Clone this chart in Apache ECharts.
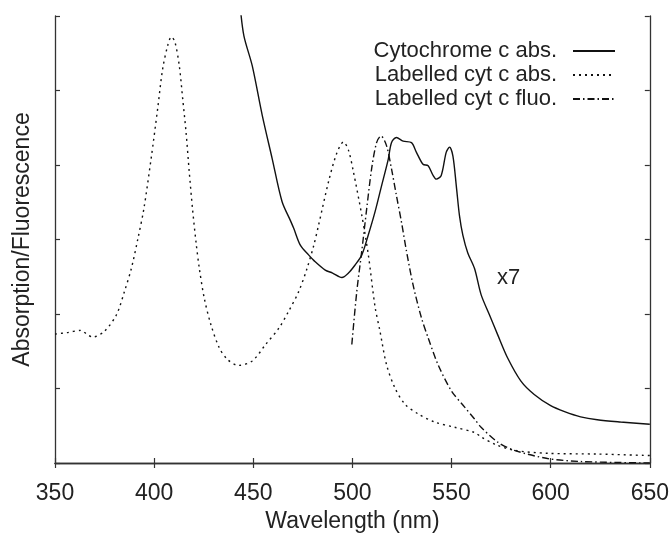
<!DOCTYPE html>
<html lang="en">
<head>
    <meta charset="UTF-8">
    <title>Absorption / Fluorescence</title>
    <script src="https://cdn.jsdelivr.net/npm/echarts@6/dist/echarts.min.js"></script>
    <style>
        body{margin:0;background:#fff;}
        #main{width:672px;height:538px;}
    </style>
</head>
<body>
<div id="main"></div>
<script>
    // wavelength (nm), relative intensity (0-6 scale of the frame)
    var cytAbs = [
        [443.5,6.1],[445.3,5.73],[449.5,5.33],[454.5,4.67],[459.5,4.09],[464.5,3.51],[468.8,3.25],
        [470.4,3.15],[473.8,2.92],[478,2.79],[480.5,2.72],[486.3,2.59],[490,2.55],[494.7,2.49],
        [498,2.55],[501.4,2.66],[504.7,2.79],[508,3.06],[511.4,3.37],[514.7,3.72],[518.1,4.08],
        [519.7,4.30],[522.2,4.37],[525.6,4.32],[529.8,4.30],[532.3,4.17],[535.6,4.01],[538.2,3.99],
        [540.7,3.86],[542.3,3.81],[544.8,3.86],[547.3,4.17],[549,4.24],[550.7,4.12],[552.4,3.72],
        [554,3.32],[555.7,3.06],[558.2,2.82],[561.6,2.61],[564.9,2.26],[569.1,1.99],[573.3,1.72],
        [578.3,1.41],[585,1.10],[591.7,0.92],[600,0.77],[607,0.69],[615.1,0.62],[623.5,0.58],
        [635.2,0.55],[650,0.52]
    ];
    var labAbs = [
        [350,1.73],[356,1.75],[363,1.78],[366,1.73],[369,1.69],[375,1.77],[381,1.99],[385,2.30],
        [388.5,2.61],[391.8,3.01],[394.8,3.41],[398.5,4.09],[401.8,4.76],[404.3,5.29],[407,5.62],
        [408.7,5.72],[410.5,5.65],[412.7,5.33],[414.4,4.89],[416.1,4.44],[417.7,3.91],[419.4,3.40],
        [421.1,2.97],[422.8,2.61],[425.3,2.21],[428.6,1.86],[432.8,1.55],[437,1.39],[442.5,1.31],
        [449.5,1.37],[456.2,1.59],[462.9,1.81],[467.9,2.04],[472.9,2.30],[477.1,2.61],[480.5,2.92],
        [483,3.20],[488,3.78],[492,4.15],[495.5,4.31],[498,4.20],[500.5,3.91],[504.7,3.33],
        [508,2.80],[511.4,2.10],[513.9,1.77],[517.2,1.32],[521.4,1.01],[526.5,0.79],[533.1,0.66],
        [541.5,0.55],[551.5,0.48],[561.6,0.41],[564.9,0.35],[572,0.25],[581.7,0.17],[598.4,0.13],
        [623.5,0.12],[650,0.10]
    ];
    var labFluo = [
        [499.7,1.59],[502.2,2.30],[504.7,2.84],[507.2,3.41],[509.7,3.95],[512.2,4.30],[514.4,4.39],
        [517.2,4.26],[519.7,3.95],[522.2,3.59],[524.7,3.24],[527.3,2.84],[530.6,2.39],[534.8,1.95],
        [538.2,1.68],[543.2,1.32],[549.9,0.97],[556.6,0.75],[561.6,0.59],[564.9,0.48],[573.3,0.28],
        [581.7,0.17],[598.4,0.06],[615.1,0.02],[650,0.0]
    ];
    var seriesNames = ['Cytochrome c abs.', 'Labelled cyt c abs.', 'Labelled cyt c fluo.'];
    var xTicks = {min: 350, max: 650, step: 50};
    var yTicks = {min: 0, max: 6, step: 1};

    var font = 'Liberation Sans, Arial, Helvetica, sans-serif';
    var ink = '#222';
    var axisLine = {show: true, lineStyle: {color: '#333', width: 1.3}};
    var tick = {show: true, inside: true, length: 5, lineStyle: {color: '#333', width: 1.2}};

    var myCharts = echarts.init(document.getElementById('main'));
    var option = {
        animation: false,
        backgroundColor: '#fff',
        grid: {left: 55, right: 19, top: 16, bottom: 72, containLabel: false},
        legend: {
            orient: 'vertical',
            right: 51,
            top: 35,
            align: 'right',
            itemWidth: 42,
            itemHeight: 14,
            itemGap: 2,
            // hide the round marker ECharts puts in the middle of line icons
            itemStyle: {color: 'rgba(0,0,0,0)', borderWidth: 0, borderColor: 'rgba(0,0,0,0)'},
            textStyle: {fontFamily: font, fontSize: 22, color: ink, lineHeight: 22, padding: [0, 11, 0, 0]},
            data: seriesNames
        },
        xAxis: [{
            type: 'value',
            min: xTicks.min, max: xTicks.max, interval: xTicks.step,
            name: 'Wavelength (nm)',
            nameLocation: 'middle',
            nameGap: 47,
            nameTextStyle: {fontFamily: font, fontSize: 23, color: ink},
            axisLine: axisLine,
            axisTick: tick,
            axisLabel: {fontFamily: font, fontSize: 23, color: ink, margin: 19},
            splitLine: {show: false}
        }, {
            type: 'value',
            position: 'top',
            min: xTicks.min, max: xTicks.max, interval: xTicks.step,
            axisLine: axisLine,
            axisTick: tick,
            axisLabel: {show: false},
            splitLine: {show: false}
        }],
        yAxis: [{
            type: 'value',
            min: yTicks.min, max: yTicks.max, interval: yTicks.step,
            name: 'Absorption/Fluorescence',
            nameLocation: 'middle',
            nameGap: 21,
            nameTextStyle: {fontFamily: font, fontSize: 23, color: ink},
            axisLine: axisLine,
            axisTick: tick,
            axisLabel: {show: false},
            splitLine: {show: false}
        }, {
            type: 'value',
            position: 'right',
            min: yTicks.min, max: yTicks.max, interval: yTicks.step,
            axisLine: axisLine,
            axisTick: tick,
            axisLabel: {show: false},
            splitLine: {show: false}
        }],
        series: [{
            name: seriesNames[0],
            type: 'line',
            data: cytAbs,
            symbol: 'none',
            smooth: 0.3,
            clip: true,
            lineStyle: {color: '#111', width: 1.4, type: 'solid'}
        }, {
            name: seriesNames[1],
            type: 'line',
            data: labAbs,
            symbol: 'none',
            smooth: 0.3,
            clip: true,
            lineStyle: {color: '#111', width: 1.4, type: [2, 4]}
        }, {
            name: seriesNames[2],
            type: 'line',
            data: labFluo,
            symbol: 'none',
            smooth: 0.3,
            clip: true,
            lineStyle: {color: '#111', width: 1.4, type: [7, 3, 1.5, 3]}
        }],
        graphic: [{
            type: 'text',
            left: 497,
            top: 267,
            style: {text: 'x7', font: '22px ' + font, fill: ink}
        }]
    };
    myCharts.setOption(option);
</script>
</body>
</html>
